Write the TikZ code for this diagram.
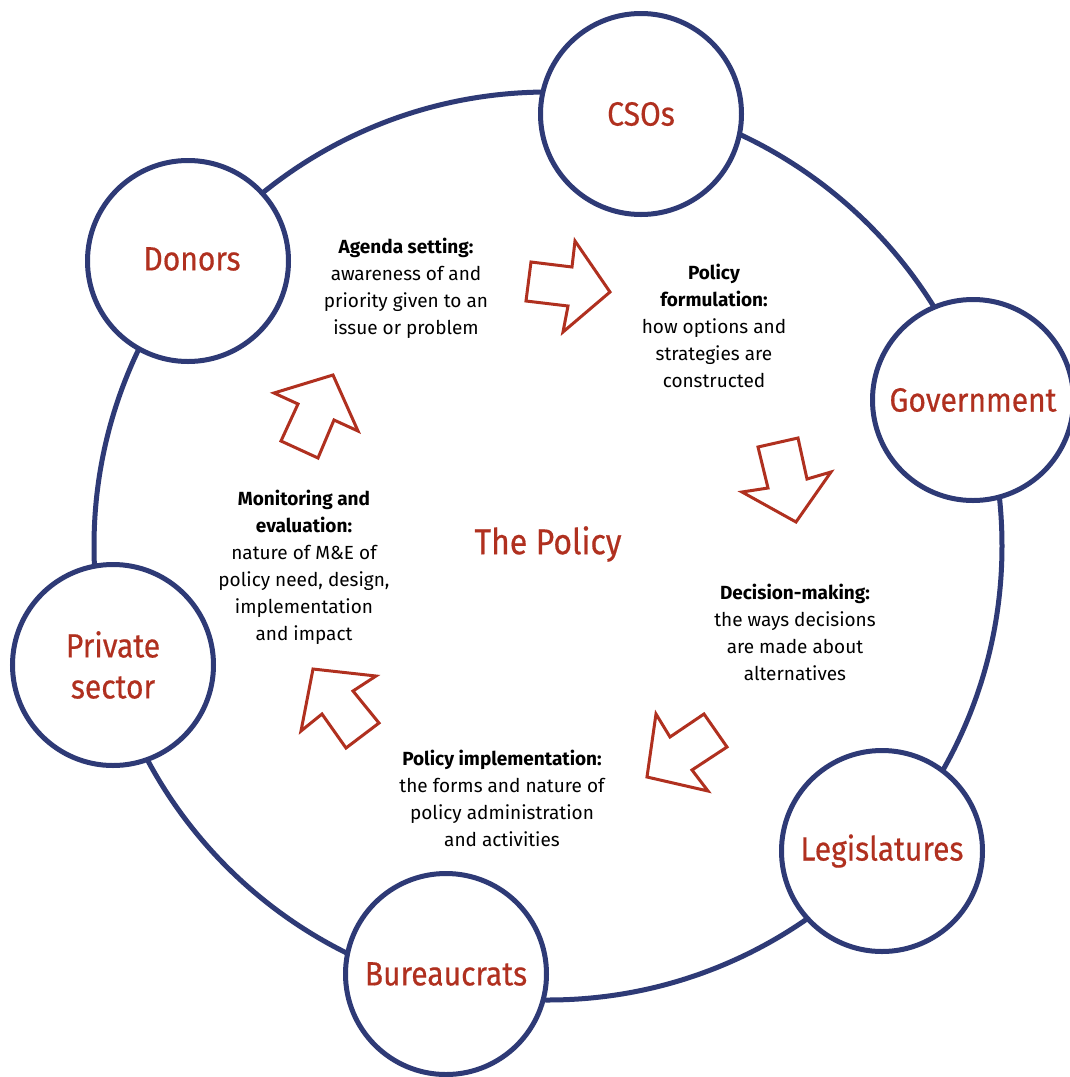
\documentclass[tikz,border=0pt]{standalone}
\usepackage{fontspec}
\usepackage{graphicx}
\setmainfont{Fira Sans}
\newfontfamily\labfont[FakeBold=0.5]{Fira Sans}
\definecolor{navy}{HTML}{2E3A76}
\definecolor{redc}{HTML}{B0301F}
\newcommand{\lab}[1]{\scalebox{1}[1.12]{#1}}
\begin{document}
\begin{tikzpicture}[x=1pt,y=-1pt,
  actor/.style={circle,draw=navy,line width=5pt,fill=white,minimum size=201pt,inner sep=0pt,
     text=redc,align=center,font=\labfont\fontsize{30}{41}\selectfont},
  labtext/.style={text=redc,align=center,inner sep=0pt,font=\labfont\fontsize{30}{41}\selectfont},
  stage/.style={align=center,text=black,font=\fontsize{19}{27}\selectfont,inner sep=0pt},
  blockarrow/.style={draw=redc,line width=3pt,line join=miter,fill=white}]
\useasboundingbox (0,0) rectangle (1070,1077);
\fill[white] (0,0) rectangle (1070,1077);
\node[circle,draw=navy,line width=5pt,minimum size=908pt,inner sep=0pt] (ring) at (548,546) {};
\node[actor] (cso) at (641,114) {\lab{CSOs}};
\node[actor] (don) at (188,261) {};
\node[labtext] (donl) at (192,259) {\lab{Donors}};
\node[actor] (gov) at (973,400) {\lab{Government}};
\node[actor] (priv) at (113,665) {\lab{Private}\\\lab{sector}};
\node[actor] (leg) at (882,851) {\lab{Legislatures}};
\node[actor] (bur) at (446,974) {\lab{Bureaucrats}};
\node[labtext,font=\labfont\fontsize{32}{41}\selectfont] (pol) at (548,544) {\lab{The Policy}};
\node[stage] (agenda) at (406,288) {\textbf{Agenda setting:}\\awareness of and\\priority given to an\\issue or problem};
\node[stage] (form) at (714,326) {\textbf{Policy}\\\textbf{formulation:}\\how options and\\strategies are\\constructed};
\node[stage] (dec) at (795,632) {\textbf{Decision-making:}\\the ways decisions\\are made about\\alternatives};
\node[stage] (impl) at (502,798) {\textbf{Policy implementation:}\\the forms and nature of\\policy administration\\and activities};
\node[stage] (mon) at (304,567) {\textbf{Monitoring and}\\\textbf{evaluation:}\\nature of M\&E of\\policy need, design,\\implementation\\and impact};
% block arrows
\draw[blockarrow] (531,262) -- (572,267) -- (575,241) -- (610,292) -- (563,332) -- (568,306) -- (526,301) -- cycle;
\draw[blockarrow] (758,447) -- (798,438) -- (807,479) -- (831,472) -- (796,522) -- (742,492) -- (768,488) -- cycle;
\draw[blockarrow] (647,777) -- (656,714) -- (670,737) -- (704,714) -- (727,747) -- (692,770) -- (708,791) -- cycle;
\draw[blockarrow] (313,669) -- (376,676) -- (353,691) -- (379,723) -- (346,748) -- (322,714) -- (301,731) -- cycle;
\draw[blockarrow] (333,375) -- (358,431) -- (334,420) -- (318,458) -- (281,441) -- (298,404) -- (274,393) -- cycle;
\end{tikzpicture}
\end{document}
